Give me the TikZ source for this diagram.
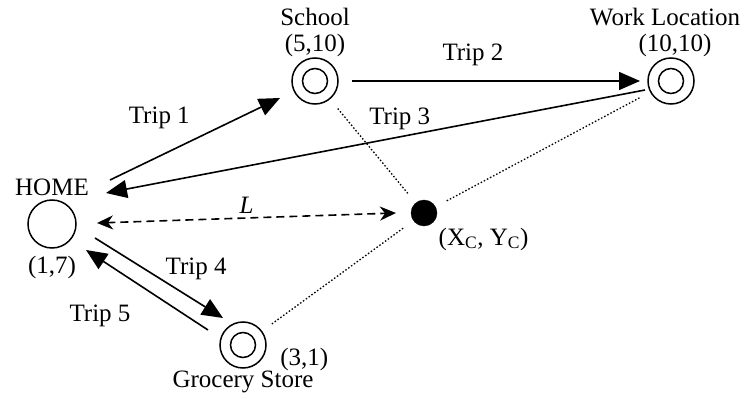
\documentclass[tikz,border=0pt]{standalone}
\usepackage{fontspec}
\setmainfont{Liberation Serif}
\usetikzlibrary{positioning, arrows.meta, calc}

\begin{document}
\begin{tikzpicture}[
        x=1pt, y=-1pt,
        font=\fontsize{25}{27}\selectfont,
        base/.style  = {draw, circle, minimum size=48pt, inner sep=0pt, line width=1.5pt},
        stop/.style  = {draw, circle, minimum size=46pt, inner sep=0pt, line width=1.5pt,
                        path picture={\draw[line width=1.5pt] (path picture bounding box.center) circle (12.5pt);}},
        centre/.style= {draw, circle, fill=black, minimum size=26pt, inner sep=0pt},
        trip/.style  = {-{Triangle[length=21pt, width=18pt]}, line width=1.6pt},
        dist/.style  = {{Stealth[length=16pt, width=14pt, inset=5pt]}-{Stealth[length=16pt, width=14pt, inset=5pt]}, line width=1.6pt, dash pattern=on 8pt off 5pt},
        link/.style  = {line width=1.3pt, dash pattern=on 1.5pt off 2pt, shorten <=12pt, shorten >=12pt},
    ]
        \useasboundingbox (0,0) rectangle (745,396);
        % Places
        \node[base] (home) at (52,224) {};
        \node[stop] (school) at (315,81) {};
        \node[stop] (work) at (671,81) {};
        \node[stop] (shop) at (243,345) {};
        \node[centre] (cen) at (424,213) {};
        % Names and coordinates
        \node[above=0pt of home] (homename) {HOME};
        \node[below=4pt of home] (homexy) {(1,7)};
        \node[above=-3pt of school] (schoolxy) {(5,10)};
        \node[above=1pt of schoolxy] (schoolname) {School};
        \node[above=-3pt of work, xshift=4pt] (workxy) {(10,10)};
        \node[above=1pt of workxy, xshift=-10pt] (workname) {Work Location};
        \node[right=10pt of shop, yshift=-14pt] (shopxy) {(3,1)};
        \node[below=-1pt of shop] (shopname) {Grocery Store};
        \node[right=-2pt of cen, yshift=-26pt] (cenxy) {(X\textsubscript{C}, Y\textsubscript{C})};

        % Trips
        \draw[trip] ($(home)+(58,-44)$) -- node[pos=0.29, above=23pt] (t1) {Trip 1} ($(school)+(-35,17)$);
        \draw[trip] ($(school)+(37,0)$) -- node[pos=0.42, above=11pt] (t2) {Trip 2} ($(work)+(-31,0)$);
        \draw[trip] ($(work)+(-26,9)$) -- node[pos=0.455, above=3pt] (t3) {Trip 3} ($(home)+(54,-31)$);
        \draw[trip] ($(home)+(43,14)$) -- node[pos=0.79, above=17pt] (t4) {Trip 4} ($(shop)+(-20,-27)$);
        \draw[trip] ($(shop)+(-35,-15)$) -- node[pos=0.885, below=42pt] (t5) {Trip 5} ($(home)+(34,26)$);
        % Distance
        \draw[dist] ($(home)+(45,-1)$) -- node[above] (len) {\textit{L}} ($(cen)+(-28,0)$);
        % Links to the centre
        \draw[link] (school) -- (cen);
        \draw[link] (work) -- (cen);
        \draw[link] (shop) -- (cen);
    \end{tikzpicture}
\end{document}
